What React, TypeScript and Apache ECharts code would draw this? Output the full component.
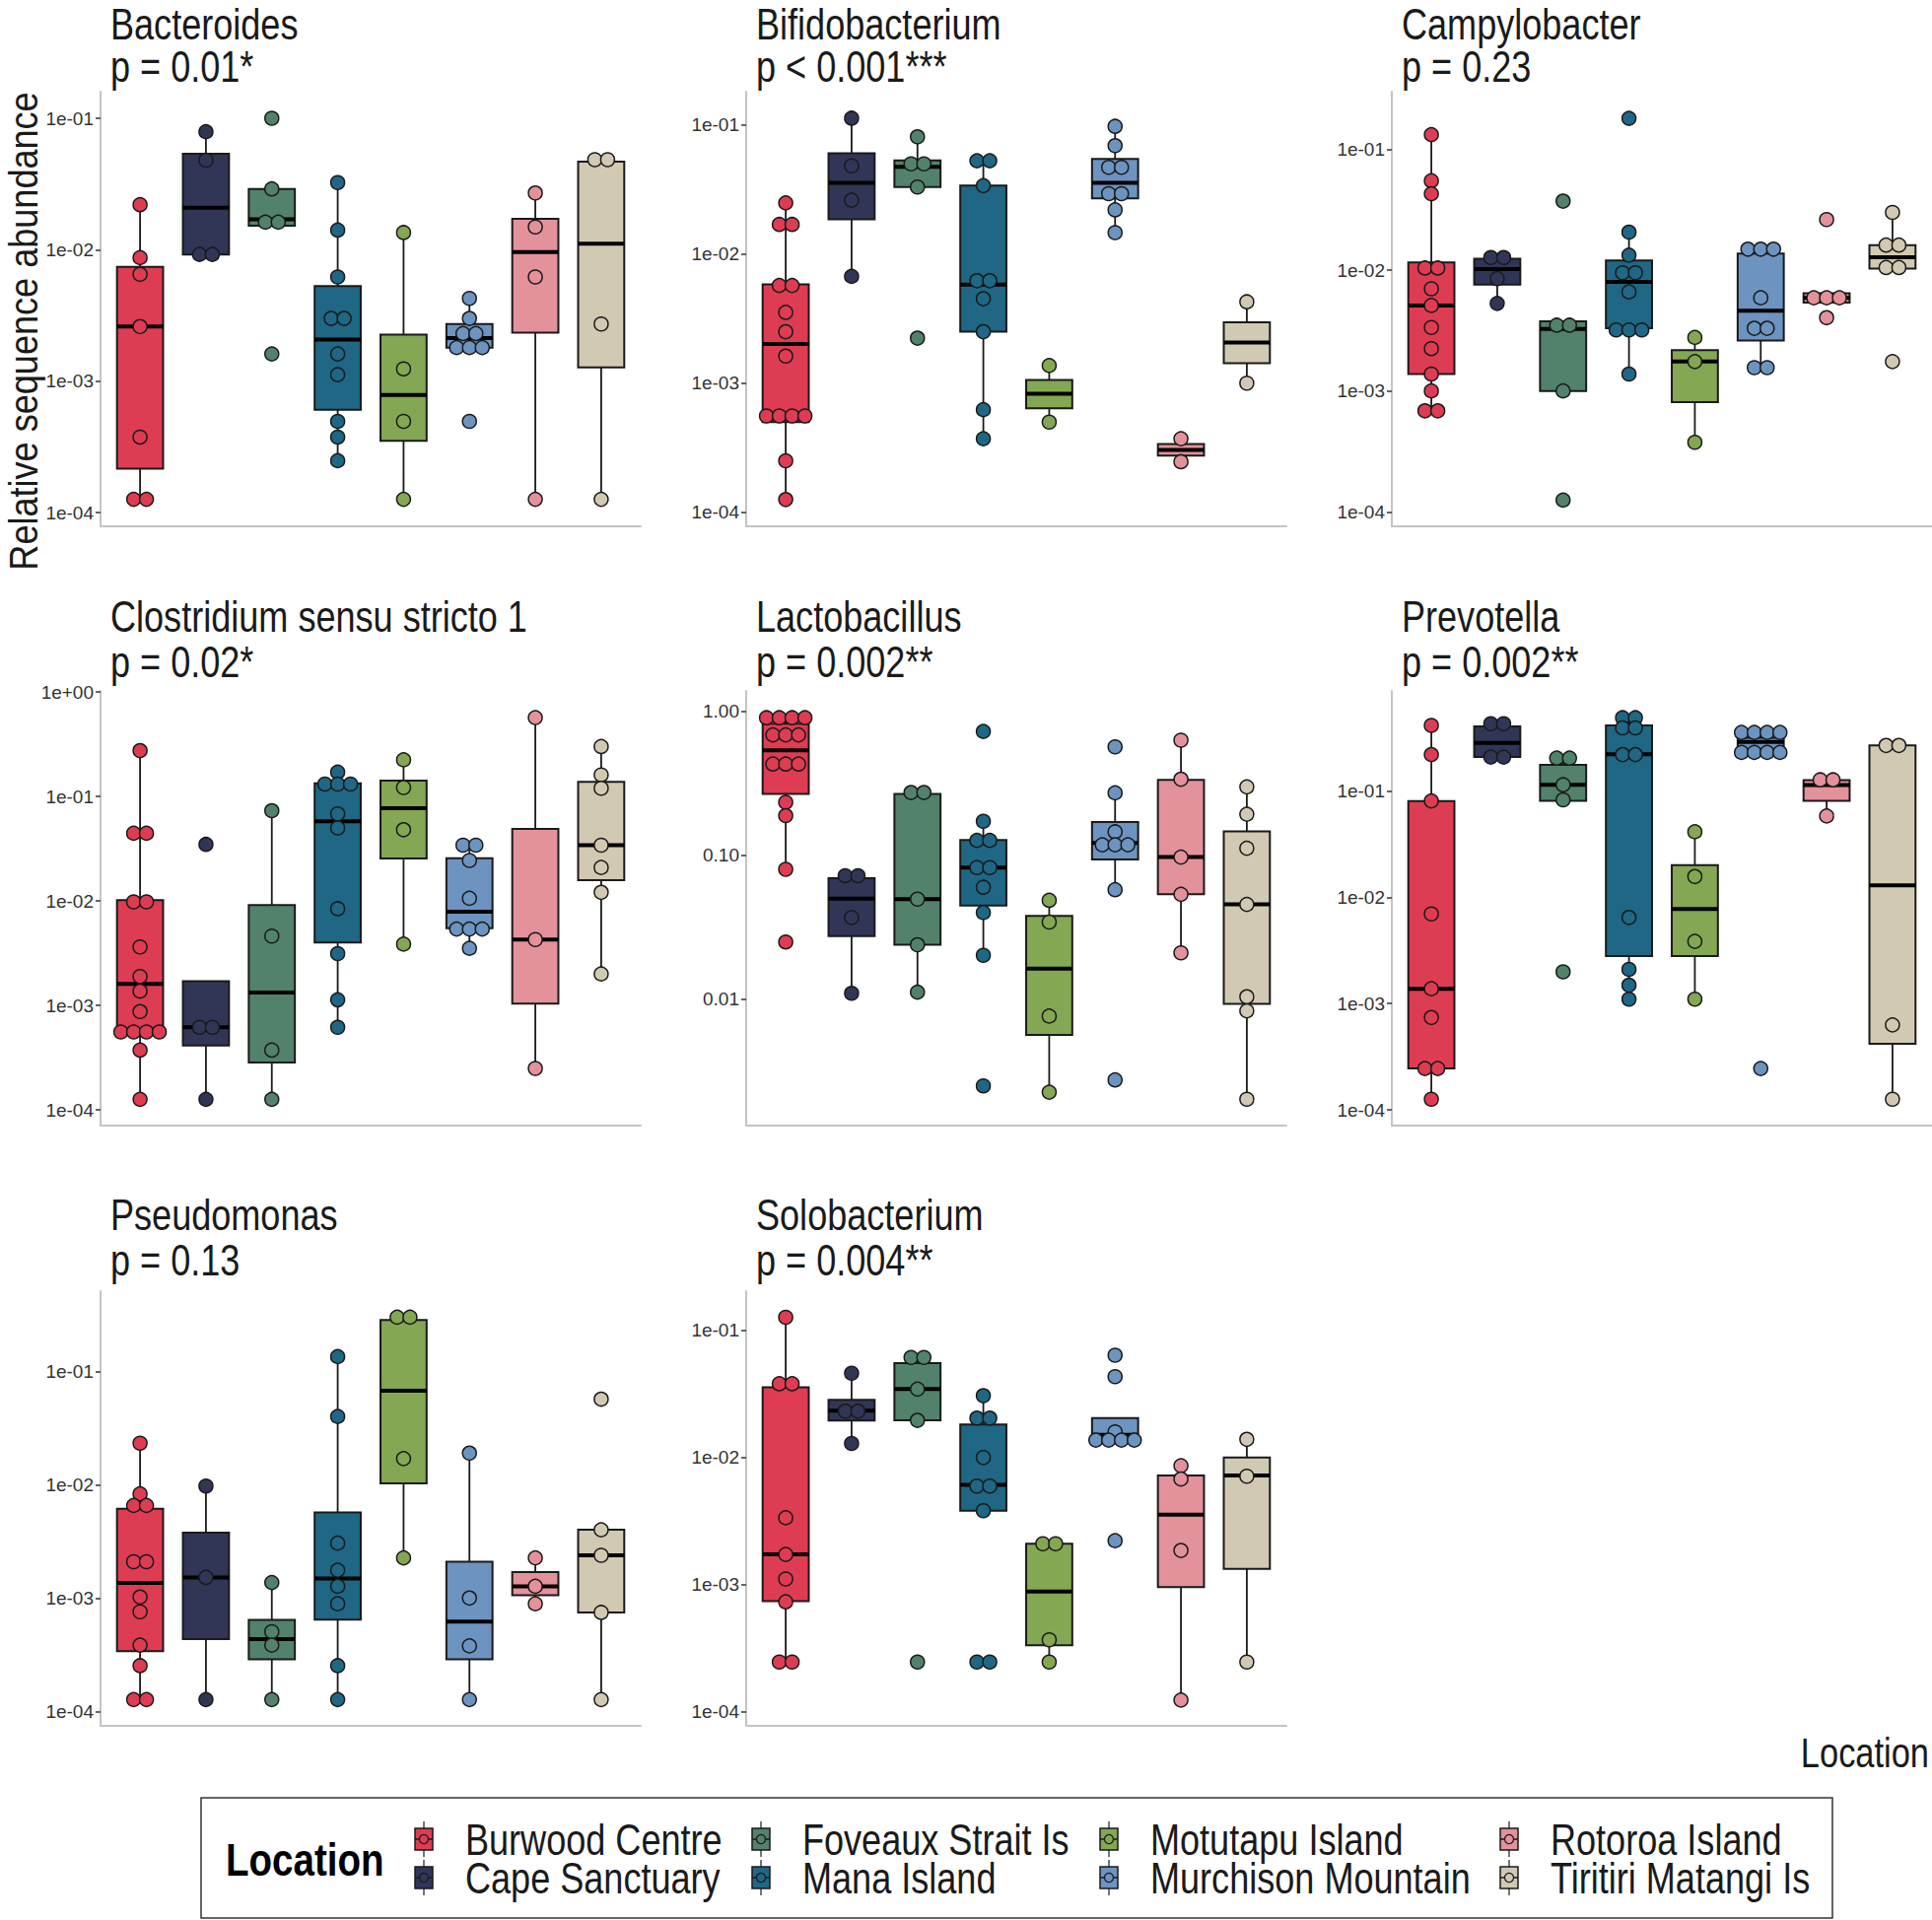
import React, { useEffect, useRef } from 'react';
import * as echarts from 'echarts';

const FONT = "'Liberation Sans', Arial, Helvetica, sans-serif";
const NARROW = 0.82; // horizontal squeeze that turns Liberation Sans into an Arial Narrow look

const locations = ['Burwood Centre', 'Cape Sanctuary', 'Foveaux Strait Is', 'Mana Island', 'Motutapu Island', 'Murchison Mountain', 'Rotoroa Island', 'Tiritiri Matangi Is'];
const locationColors = ['#DE3C53', '#313657', '#52826B', '#1F6784', '#83A753', '#6D93C0', '#E3919B', '#D2C9B3'];

const genera = ['Bacteroides', 'Bifidobacterium', 'Campylobacter', 'Clostridium sensu stricto 1', 'Lactobacillus', 'Prevotella', 'Pseudomonas', 'Solobacterium'];
const pLabels = ['p = 0.01*', 'p < 0.001***', 'p = 0.23', 'p = 0.02*', 'p = 0.002**', 'p = 0.002**', 'p = 0.13', 'p = 0.004**'];
const yTickStyle = ['sci', 'sci', 'sci', 'sci', 'dec', 'sci', 'sci', 'sci'];
// y-axis limits, log10 of relative abundance
const yLogMin = [-4.105, -4.107, -4.12, -4.151, -2.878, -4.148, -4.128, -4.109];
const yLogMax = [-0.7975, -0.7454, -0.5237, 0.011, 0.1425, -0.0575, -0.292, -0.6925];

// ---- Bacteroides ----
const bacteroidesPoints = [
  [0.022, 0.0087, 0.0065, 0.0026, 0.000375, 0.000126, 0.000126],
  [0.079, 0.048, 0.0092, 0.0092],
  [0.1, 0.029, 0.0162, 0.0162, 0.00161],
  [0.0324, 0.0141, 0.0062, 0.003, 0.003, 0.00161, 0.00112, 0.000494, 0.000375, 0.000248],
  [0.0135, 0.00124, 0.000494, 0.000126],
  [0.00426, 0.003, 0.0023, 0.0023, 0.0018, 0.0018, 0.0018, 0.000494],
  [0.027, 0.0149, 0.0062, 0.000126],
  [0.0484, 0.0484, 0.00272, 0.000126],
];
const bacteroidesBoxes = [
  [0.000126, 0.000216, 0.0026, 0.0074, 0.022],
  [0.0092, 0.0092, 0.0209, 0.0537, 0.079],
  [0.0152, 0.0152, 0.017, 0.029, 0.029],
  [0.000248, 0.000606, 0.00207, 0.00528, 0.0324],
  [0.000126, 0.000352, 0.000785, 0.00226, 0.0135],
  [0.0018, 0.0018, 0.00213, 0.00272, 0.00426],
  [0.000126, 0.00234, 0.0096, 0.0172, 0.027],
  [0.000126, 0.00127, 0.0111, 0.0467, 0.0484],
];

// ---- Bifidobacterium ----
const bifidobacteriumPoints = [
  [0.0248, 0.0169, 0.0169, 0.0057, 0.0057, 0.00353, 0.0025, 0.00162, 0.000558, 0.000558, 0.000558, 0.000558, 0.000251, 0.000126],
  [0.112, 0.048, 0.026, 0.0067],
  [0.0804, 0.0497, 0.0497, 0.0329, 0.00223],
  [0.0525, 0.0525, 0.0337, 0.0062, 0.0062, 0.0045, 0.0025, 0.000624, 0.000372],
  [0.00137, 0.0005],
  [0.0969, 0.0687, 0.0467, 0.0467, 0.0292, 0.0292, 0.0219, 0.0146],
  [0.000372, 0.000247],
  [0.00426, 0.001],
];
const bifidobacteriumBoxes = [
  [0.000126, 0.000501, 0.00201, 0.0058, 0.0248],
  [0.0067, 0.0185, 0.0354, 0.0599, 0.112],
  [0.0329, 0.0329, 0.0472, 0.0528, 0.0804],
  [0.000372, 0.0025, 0.00578, 0.0337, 0.0525],
  [0.0005, 0.00064, 0.000827, 0.00106, 0.00137],
  [0.0146, 0.0269, 0.0354, 0.0542, 0.0969],
  [0.000247, 0.000275, 0.000304, 0.000338, 0.000372],
  [0.001, 0.00143, 0.00206, 0.00296, 0.00426],
];

// ---- Campylobacter ----
const campylobacterPoints = [
  [0.132, 0.0548, 0.0428, 0.0104, 0.0104, 0.007, 0.0051, 0.00335, 0.00224, 0.00138, 0.001, 0.000685, 0.000685],
  [0.0127, 0.0127, 0.0085, 0.0053],
  [0.0372, 0.0035, 0.0035, 0.001, 0.000125],
  [0.18, 0.0206, 0.0133, 0.0095, 0.0095, 0.0066, 0.0032, 0.0032, 0.0032, 0.00138],
  [0.00277, 0.00175, 0.000376],
  [0.0149, 0.0149, 0.0149, 0.0059, 0.0033, 0.0033, 0.00156, 0.00156],
  [0.0262, 0.0059, 0.0059, 0.0059, 0.00404],
  [0.03, 0.0161, 0.0161, 0.0105, 0.0105, 0.00175],
];
const campylobacterBoxes = [
  [0.000685, 0.00138, 0.0051, 0.0116, 0.132],
  [0.0053, 0.00757, 0.0102, 0.0124, 0.0127],
  [0.001, 0.001, 0.00326, 0.00377, 0.00377],
  [0.00138, 0.0033, 0.008, 0.012, 0.0206],
  [0.000376, 0.00081, 0.00175, 0.00218, 0.00277],
  [0.00156, 0.00261, 0.00461, 0.0137, 0.0149],
  [0.00538, 0.00538, 0.0059, 0.00644, 0.00644],
  [0.0103, 0.0103, 0.0128, 0.0161, 0.03],
];

// ---- Clostridium sensu stricto 1 ----
const clostridiumPoints = [
  [0.275, 0.0445, 0.0445, 0.0098, 0.0098, 0.00363, 0.00189, 0.00137, 0.000873, 0.000557, 0.000557, 0.000557, 0.000557, 0.000373, 0.000126],
  [0.0348, 0.000617, 0.000617, 0.000126],
  [0.0731, 0.00461, 0.000373, 0.000126],
  [0.171, 0.1316, 0.1316, 0.1316, 0.0682, 0.05, 0.00843, 0.00313, 0.00113, 0.000617],
  [0.2245, 0.122, 0.0481, 0.00386],
  [0.0342, 0.0342, 0.0244, 0.0106, 0.00538, 0.00538, 0.00538, 0.00352],
  [0.569, 0.00427, 0.000249],
  [0.301, 0.161, 0.12, 0.0342, 0.0209, 0.0121, 0.002],
];
const clostridiumBoxes = [
  [0.000126, 0.000528, 0.00161, 0.0102, 0.275],
  [0.000126, 0.000412, 0.000617, 0.0017, 0.0017],
  [0.000126, 0.000284, 0.00133, 0.00912, 0.0731],
  [0.000617, 0.00401, 0.058, 0.1336, 0.171],
  [0.00386, 0.0255, 0.0772, 0.142, 0.2245],
  [0.00352, 0.00547, 0.00787, 0.0257, 0.0342],
  [0.000249, 0.00104, 0.00427, 0.0489, 0.569],
  [0.002, 0.0158, 0.0342, 0.138, 0.301],
];

// ---- Lactobacillus ----
const lactobacillusPoints = [
  [0.904, 0.904, 0.904, 0.904, 0.687, 0.687, 0.687, 0.431, 0.431, 0.431, 0.2335, 0.1887, 0.0799, 0.025],
  [0.0722, 0.0722, 0.037, 0.011],
  [0.2733, 0.2733, 0.0496, 0.0239, 0.0112],
  [0.726, 0.1724, 0.127, 0.127, 0.0822, 0.0822, 0.06, 0.04, 0.0202, 0.0025],
  [0.0487, 0.0344, 0.00764, 0.00226],
  [0.567, 0.2718, 0.1457, 0.1184, 0.1184, 0.1184, 0.0577, 0.00275],
  [0.631, 0.338, 0.0972, 0.0536, 0.021],
  [0.299, 0.193, 0.112, 0.0456, 0.0104, 0.0083, 0.00202],
];
const lactobacillusBoxes = [
  [0.0799, 0.267, 0.536, 0.8215, 0.904],
  [0.011, 0.0275, 0.0501, 0.0694, 0.0722],
  [0.0112, 0.0239, 0.0496, 0.267, 0.2733],
  [0.0202, 0.0448, 0.0822, 0.128, 0.1724],
  [0.00226, 0.00564, 0.0163, 0.0379, 0.0487],
  [0.0577, 0.0935, 0.1217, 0.1706, 0.2718],
  [0.021, 0.0536, 0.0972, 0.335, 0.631],
  [0.00202, 0.0093, 0.0456, 0.1465, 0.299],
];

// ---- Prevotella ----
const prevotellaPoints = [
  [0.415, 0.2206, 0.0808, 0.00698, 0.00138, 0.00074, 0.000245, 0.000245, 0.000126],
  [0.4307, 0.4307, 0.209, 0.209],
  [0.2044, 0.2044, 0.1147, 0.0827, 0.00199],
  [0.49, 0.49, 0.393, 0.393, 0.2206, 0.2206, 0.00647, 0.0021, 0.00149, 0.0011],
  [0.0414, 0.0157, 0.00385, 0.0011],
  [0.356, 0.356, 0.356, 0.356, 0.231, 0.231, 0.231, 0.231, 0.000245],
  [0.1276, 0.1276, 0.0583],
  [0.2688, 0.2688, 0.00063, 0.000126],
];
const prevotellaBoxes = [
  [0.000126, 0.000245, 0.00138, 0.0805, 0.415],
  [0.209, 0.209, 0.2836, 0.4055, 0.4307],
  [0.0808, 0.0808, 0.1147, 0.177, 0.2044],
  [0.0011, 0.0028, 0.222, 0.415, 0.49],
  [0.0011, 0.0028, 0.00776, 0.0201, 0.0414],
  [0.231, 0.2416, 0.29, 0.3177, 0.356],
  [0.0583, 0.0808, 0.1138, 0.127, 0.1276],
  [0.000126, 0.000418, 0.013, 0.2688, 0.2688],
];

// ---- Pseudomonas ----
const pseudomonasPoints = [
  [0.02325, 0.0083, 0.00656, 0.00656, 0.00209, 0.00209, 0.00102, 0.000757, 0.000384, 0.000253, 0.000127, 0.000127],
  [0.00972, 0.00152, 0.000127],
  [0.00137, 0.000504, 0.000384, 0.000127],
  [0.135, 0.04, 0.00305, 0.00176, 0.00127, 0.00089, 0.000253, 0.000127],
  [0.3008, 0.3008, 0.017, 0.00226],
  [0.019, 0.001, 0.000378, 0.000127],
  [0.00226, 0.00127, 0.00089],
  [0.0569, 0.004, 0.00238, 0.000746, 0.000127],
];
const pseudomonasBoxes = [
  [0.000127, 0.00034, 0.00136, 0.00615, 0.02325],
  [0.000127, 0.000433, 0.00152, 0.00378, 0.00972],
  [0.000127, 0.000288, 0.000433, 0.000642, 0.00137],
  [0.000127, 0.000646, 0.00149, 0.00569, 0.135],
  [0.00226, 0.0103, 0.0675, 0.284, 0.3008],
  [0.000127, 0.000288, 0.000619, 0.00209, 0.019],
  [0.00089, 0.00106, 0.00127, 0.00169, 0.00226],
  [0.000127, 0.000746, 0.00238, 0.004, 0.004],
];

// ---- Solobacterium ----
const solobacteriumPoints = [
  [0.1266, 0.038, 0.038, 0.00336, 0.00173, 0.00111, 0.000734, 0.000247, 0.000247],
  [0.046, 0.0231, 0.0231, 0.0129],
  [0.0612, 0.0612, 0.0345, 0.0196, 0.000247],
  [0.0306, 0.0204, 0.0204, 0.01, 0.00596, 0.00596, 0.00382, 0.000247, 0.000247],
  [0.0021, 0.0021, 0.000369, 0.000247],
  [0.0637, 0.0432, 0.0159, 0.0137, 0.0137, 0.0137, 0.0137, 0.00222],
  [0.00862, 0.00678, 0.00186, 0.000124],
  [0.0139, 0.00713, 0.000247],
];
const solobacteriumBoxes = [
  [0.000247, 0.000743, 0.00173, 0.0357, 0.1266],
  [0.0129, 0.0195, 0.0233, 0.0284, 0.046],
  [0.0196, 0.0196, 0.0345, 0.0553, 0.0612],
  [0.00382, 0.00382, 0.00609, 0.0182, 0.0306],
  [0.000247, 0.000335, 0.000883, 0.0021, 0.0021],
  [0.0137, 0.0137, 0.0151, 0.0204, 0.0204],
  [0.000124, 0.000956, 0.00356, 0.00721, 0.00862],
  [0.000247, 0.001335, 0.00721, 0.01, 0.0139],
];

const allPoints = [bacteroidesPoints, bifidobacteriumPoints, campylobacterPoints, clostridiumPoints, lactobacillusPoints, prevotellaPoints, pseudomonasPoints, solobacteriumPoints];
const allBoxes = [bacteroidesBoxes, bifidobacteriumBoxes, campylobacterBoxes, clostridiumBoxes, lactobacillusBoxes, prevotellaBoxes, pseudomonasBoxes, solobacteriumBoxes];

// ---- layout ----
const COL_LEFT = [102, 757, 1412];
const ROW_TOP = [93, 701, 1310];
const PANEL_W = 548;
const PANEL_H = 441;
const TITLE_BASE = [40, 641, 1248];
const TITLE_GAP = [43, 46, 46];
const DOT_R = 7;
const DOT_STEP = 13;
const INK = '#1a1a1a';

const mid = (baseline: number, size: number) => baseline - 0.3465 * size;

function tickFormatter(style: string) {
  return (v: number) => {
    const k = Math.round(v);
    if (style === 'dec') return Math.pow(10, k).toFixed(2);
    const a = Math.abs(k);
    return '1e' + (k < 0 ? '-' : '+') + (a < 10 ? '0' + a : '' + a);
  };
}

function dotData(groups: number[][]) {
  const out: number[][] = [];
  groups.forEach((vals, g) => {
    const counts: Record<string, number> = {};
    vals.forEach((v) => { counts[String(v)] = (counts[String(v)] || 0) + 1; });
    const seen: Record<string, number> = {};
    vals.forEach((v) => {
      const key = String(v);
      const k = seen[key] || 0;
      seen[key] = k + 1;
      out.push([g + 1, Math.log10(v), k - (counts[key] - 1) / 2]);
    });
  });
  return out;
}

function boxRender(params: any, api: any) {
  const g = api.value(0);
  const color = locationColors[g - 1];
  const pm = api.coord([g, api.value(3)]);
  const pLow = api.coord([g, api.value(1)]);
  const pQ1 = api.coord([g, api.value(2)]);
  const pQ3 = api.coord([g, api.value(4)]);
  const pHigh = api.coord([g, api.value(5)]);
  const w = api.size([0.7, 0], [g, api.value(3)])[0];
  const x = pm[0];
  const ls = { stroke: INK, lineWidth: 1.8 };
  return {
    type: 'group',
    children: [
      { type: 'line', shape: { x1: x, y1: pHigh[1], x2: x, y2: pQ3[1] }, style: ls },
      { type: 'line', shape: { x1: x, y1: pQ1[1], x2: x, y2: pLow[1] }, style: ls },
      { type: 'rect', shape: { x: x - w / 2, y: pQ3[1], width: w, height: pQ1[1] - pQ3[1] }, style: { fill: color, stroke: INK, lineWidth: 2 } },
      { type: 'line', shape: { x1: x - w / 2, y1: pm[1], x2: x + w / 2, y2: pm[1] }, style: { stroke: '#000', lineWidth: 4 } },
    ],
  };
}

function dotRender(params: any, api: any) {
  const g = api.value(0);
  const p = api.coord([g, api.value(1)]);
  return {
    type: 'circle',
    shape: { cx: p[0] + api.value(2) * DOT_STEP, cy: p[1], r: DOT_R },
    style: { fill: locationColors[g - 1], stroke: INK, lineWidth: 1.5 },
  };
}

function narrowText(x: number, y: number, text: string, size: number, align: string, extra: any = {}) {
  return {
    type: 'text', x, y, scaleX: NARROW, scaleY: 1, ...extra,
    style: { text, fontSize: size, fontFamily: FONT, fill: INK, align, verticalAlign: 'middle', ...(extra.style || {}) },
  };
}

function buildOption() {
  const grid: any[] = [];
  const xAxis: any[] = [];
  const yAxis: any[] = [];
  const series: any[] = [];
  const graphic: any[] = [];

  genera.forEach((name, i) => {
    const col = i % 3;
    const row = Math.floor(i / 3);
    grid.push({ left: COL_LEFT[col], top: ROW_TOP[row], width: PANEL_W, height: PANEL_H });
    xAxis.push({
      gridIndex: i, type: 'value', min: 0.4, max: 8.6,
      axisLine: { show: true, onZero: false, lineStyle: { color: '#C4C4C4', width: 2 } },
      axisTick: { show: false }, axisLabel: { show: false }, splitLine: { show: false },
    });
    const ticks: number[] = [];
    for (let k = Math.ceil(yLogMin[i]); k <= Math.floor(yLogMax[i]); k++) ticks.push(k);
    yAxis.push({
      gridIndex: i, type: 'value', min: yLogMin[i], max: yLogMax[i],
      axisLine: { show: true, onZero: false, lineStyle: { color: '#C4C4C4', width: 2 } },
      axisTick: { show: true, length: 5, customValues: ticks, lineStyle: { color: '#333', width: 1.5 } },
      axisLabel: { show: true, customValues: ticks, formatter: tickFormatter(yTickStyle[i]), fontSize: 19, color: '#333', fontFamily: FONT, margin: 7 },
      splitLine: { show: false },
    });
    series.push({
      type: 'custom', name: name + ' boxes', xAxisIndex: i, yAxisIndex: i, z: 2,
      data: allBoxes[i].map((b, g) => [g + 1, ...b.map((v) => Math.log10(v))]),
      renderItem: boxRender,
    });
    series.push({
      type: 'custom', name: name + ' samples', xAxisIndex: i, yAxisIndex: i, z: 3,
      data: dotData(allPoints[i]),
      renderItem: dotRender,
    });
    const tx = COL_LEFT[col] + 10;
    graphic.push(narrowText(tx, mid(TITLE_BASE[row], 44), name, 44, 'left'));
    graphic.push(narrowText(tx, mid(TITLE_BASE[row] + TITLE_GAP[row], 44), pLabels[i], 44, 'left'));
  });

  // axis titles
  graphic.push(narrowText(24, 336, 'Relative sequence abundance', 41, 'center', { rotation: Math.PI / 2, scaleX: 0.88 }));
  graphic.push(narrowText(1957, mid(1793, 42), 'Location', 42, 'right'));

  // legend
  graphic.push({ type: 'rect', shape: { x: 204, y: 1824, width: 1655, height: 122 }, style: { fill: '#fff', stroke: '#333', lineWidth: 1.5 } });
  graphic.push(narrowText(229, mid(1903, 47), 'Location', 47, 'left', { style: { fontWeight: 'bold', fill: '#000' } }));
  const keyX = [430, 772, 1125, 1531];
  const keyY = [1866, 1905];
  locations.forEach((loc, i) => {
    const cx = keyX[Math.floor(i / 2)];
    const cy = keyY[i % 2];
    const color = locationColors[i];
    graphic.push({ type: 'line', shape: { x1: cx, y1: cy - 18, x2: cx, y2: cy + 18 }, style: { stroke: INK, lineWidth: 1.2 } });
    graphic.push({ type: 'rect', shape: { x: cx - 9, y: cy - 11, width: 18, height: 22 }, style: { fill: color, stroke: INK, lineWidth: 1.5 } });
    graphic.push({ type: 'line', shape: { x1: cx - 9, y1: cy, x2: cx + 9, y2: cy }, style: { stroke: INK, lineWidth: 1.5 } });
    graphic.push({ type: 'circle', shape: { cx, cy, r: 4.5 }, style: { fill: color, stroke: INK, lineWidth: 1.2 } });
    graphic.push(narrowText(cx + 42, cy + 1, loc, 44, 'left'));
  });

  return { backgroundColor: '#fff', animation: false, grid, xAxis, yAxis, series, graphic };
}

export default function App() {
  const ref = useRef<HTMLDivElement>(null);
  useEffect(() => {
    document.body.style.margin = '0';
    document.body.style.overflow = 'hidden';
    if (!ref.current) return;
    const chart = echarts.init(ref.current, undefined, { renderer: 'svg' });
    chart.setOption(buildOption() as any);
    return () => chart.dispose();
  }, []);
  return <div ref={ref} style={{ width: 1960, height: 1948, background: '#fff' }} />;
}
